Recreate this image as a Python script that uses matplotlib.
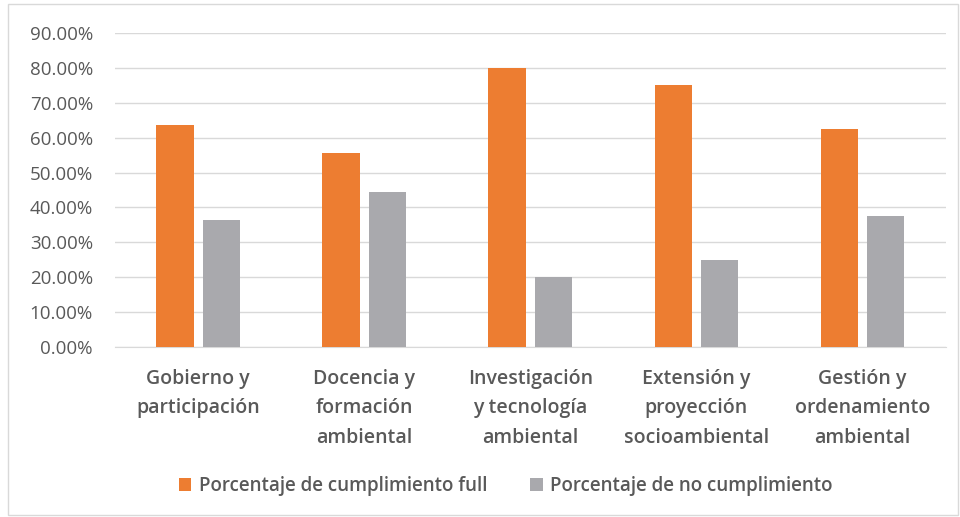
import numpy as np
import matplotlib.pyplot as plt
from matplotlib.ticker import FuncFormatter
from matplotlib.patches import Rectangle

# datos
categorias = ["Gobierno y\nparticipación", "Docencia y\nformación\nambiental",
              "Investigación\ny tecnología\nambiental", "Extensión y\nproyección\nsocioambiental",
              "Gestión y\nordenamiento\nambiental"]
cumplimiento = [63.64, 55.56, 80.00, 75.00, 62.50]
no_cumplimiento = [36.36, 44.44, 20.00, 25.00, 37.50]
serie_nombres = ["Porcentaje de cumplimiento full", "Porcentaje de no cumplimiento"]

plt.rcParams['font.family'] = ['Open Sans', 'DejaVu Sans']
gris_txt = '#595959'

fig = plt.figure(figsize=(9.6, 5.17), dpi=100)
ax = fig.add_axes([0.12, 0.329, 0.865, 0.607])

x = np.arange(len(categorias))
w = 0.225
ax.bar(x - 0.14, cumplimiento, w, color='#ED7D31', label=serie_nombres[0], zorder=3)
ax.bar(x + 0.14, no_cumplimiento, w, color='#A9A9AD', label=serie_nombres[1], zorder=3)

ax.set_xlim(-0.5, len(categorias) - 0.5)
ax.set_ylim(0, 90)
ax.set_yticks(np.arange(0, 91, 10))
ax.yaxis.set_major_formatter(FuncFormatter(lambda v, p: f"{v:.2f}%"))
ax.grid(axis='y', color='#D9D9D9', linewidth=1, zorder=0)
ax.tick_params(axis='y', length=0, labelsize=13.5, labelcolor=gris_txt, pad=16)
ax.set_xticks(x)
ax.set_xticklabels(categorias, fontsize=14, color=gris_txt, fontweight='semibold', linespacing=1.62)
ax.tick_params(axis='x', length=0, pad=16)
for s in ['top', 'right', 'left']:
    ax.spines[s].set_visible(False)
ax.spines['bottom'].set_color('#D9D9D9')

leg = fig.legend(loc='center', bbox_to_anchor=(0.527, 0.06), ncol=2, frameon=False,
                 handlelength=0.65, handleheight=0.65, handletextpad=0.4, columnspacing=2.3,
                 prop={'size': 13.5, 'weight': 'semibold'})
for t in leg.get_texts():
    t.set_color(gris_txt)

fig.patches.append(Rectangle((0.008, 0.004), 0.99, 0.988, transform=fig.transFigure,
                             fill=False, edgecolor='#D9D9D9', linewidth=1))

fig.savefig('out.png', dpi=100)
